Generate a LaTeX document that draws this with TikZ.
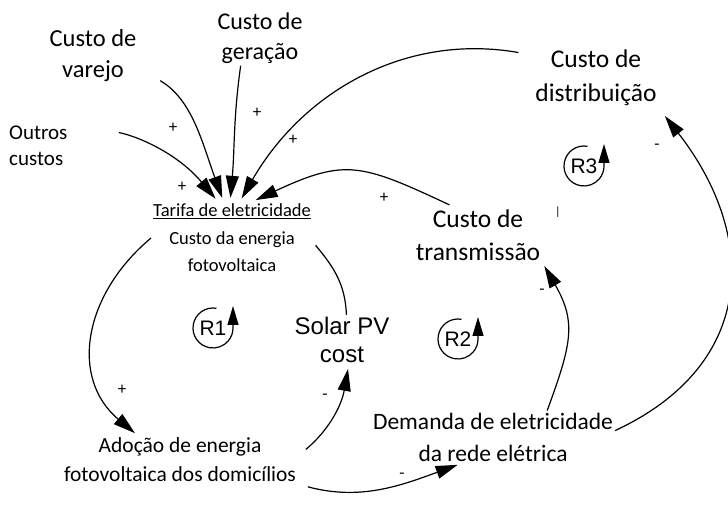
\documentclass[tikz,border=0pt]{standalone}
\usepackage{fontspec}
\setmainfont{Carlito}
\newfontfamily\arialf{Liberation Sans}
\usetikzlibrary{arrows.meta}
\tikzset{>={Triangle[length=22pt,width=13pt]},
  lbl/.style={align=center,inner sep=2pt},
  rlbl/.style={font=\arialf\fontsize{21}{21}\selectfont,inner sep=1pt},
  sgn/.style={font=\fontsize{17}{17}\selectfont,inner sep=0pt},
  every edge/.append style={line width=1.2pt,shorten >=4pt}}

\begin{document}
\begin{tikzpicture}[x=1pt,y=1pt]
\useasboundingbox (0,0) rectangle (728,505);
% variables
\node[lbl,font=\fontsize{24.5}{31}\selectfont] (Var) at (93,449) {Custo de\\varejo};
\node[lbl,font=\fontsize{24}{30}\selectfont] (Ger) at (260,467) {Custo de\\geração};
\node[lbl,font=\fontsize{21}{26}\selectfont,anchor=west,align=left] (Out) at (7,359) {Outros\\custos};
\node[lbl,font=\fontsize{25.5}{34}\selectfont] (Dist) at (596,427) {Custo de\\distribuição};
\node[lbl,font=\fontsize{18.5}{27.5}\selectfont] (Tar) at (232,267) {\underline{Tarifa de eletricidade}\\Custo da energia\\fotovoltaica};
\node[lbl,font=\fontsize{25.5}{33}\selectfont] (Trans) at (478,270) {Custo de\\transmissão};
\node[lbl,font=\arialf\fontsize{24}{28}\selectfont] (PV) at (342,165) {Solar PV\\cost};
\node[lbl,font=\fontsize{21.5}{29}\selectfont] (Ado) at (180,45) {Adoção de energia\\fotovoltaica dos domicílios};
\node[lbl,font=\fontsize{23.5}{32}\selectfont] (Dem) at (493,68) {Demanda de eletricidade\\da rede elétrica};
% costs into the tariff
\path[->] (Out.north east) edge[out=-10,in=130,shorten <=50pt] (Tar.111);
\path[->] (Var.-15) edge[out=-30,in=110,shorten <=25pt] (Tar.103);
\path[->] (Ger.-125) edge[out=-98,in=85] (Tar.93);
\path[->] (Dist.160) edge[out=170,in=60,shorten <=15pt] (Tar.78);
\path[->] (Trans.130) edge[out=155,in=25,looseness=1.3,shorten <=6pt] (Tar.61);
% feedback links
\path[->] (Tar.west) edge[out=-140,in=140,looseness=1.15] (Ado.150);
\path (PV.80) edge[out=92,in=-50] (Tar.-3);
\path[->] (Ado.2) edge[out=40,in=-100,shorten <=10pt] (PV.-75);
\path[->] (Ado.south east) edge[out=-15,in=200,shorten <=10pt] (Dem.-140);
\path[->] (Dem.26) edge[out=70,in=-60,looseness=1.2] (Trans.south east);
\path[->] (Dem.3) edge[out=25,in=-52,looseness=1.25,shorten >=10pt] (Dist.south east);
% loop markers
\foreach \n/\x/\y in {R1/213/177,R2/458/166,R3/584/339}{
  \node[rlbl] (\n) at (\x,\y) {\n};
  \draw[line width=1.2pt,-{Triangle[length=19pt,width=11pt]}] ([shift={(80:20)}]\n.center) arc[start angle=80,end angle=360,radius=20] -- ++(0,22);
}
% polarities
\foreach \x/\y [count=\i] in {173/377,257/392,293/365,182/318,384/307,122/115}
  \node[sgn] (p\i) at (\x,\y) {+};
\foreach \x/\y [count=\i] in {325/108,402/29,542/213,657/358}
  \node[sgn] (m\i) at (\x,\y) {-};
\node[sgn,font=\fontsize{12}{12}\selectfont] (tick) at (558,293) {|};
\end{tikzpicture}
\end{document}
